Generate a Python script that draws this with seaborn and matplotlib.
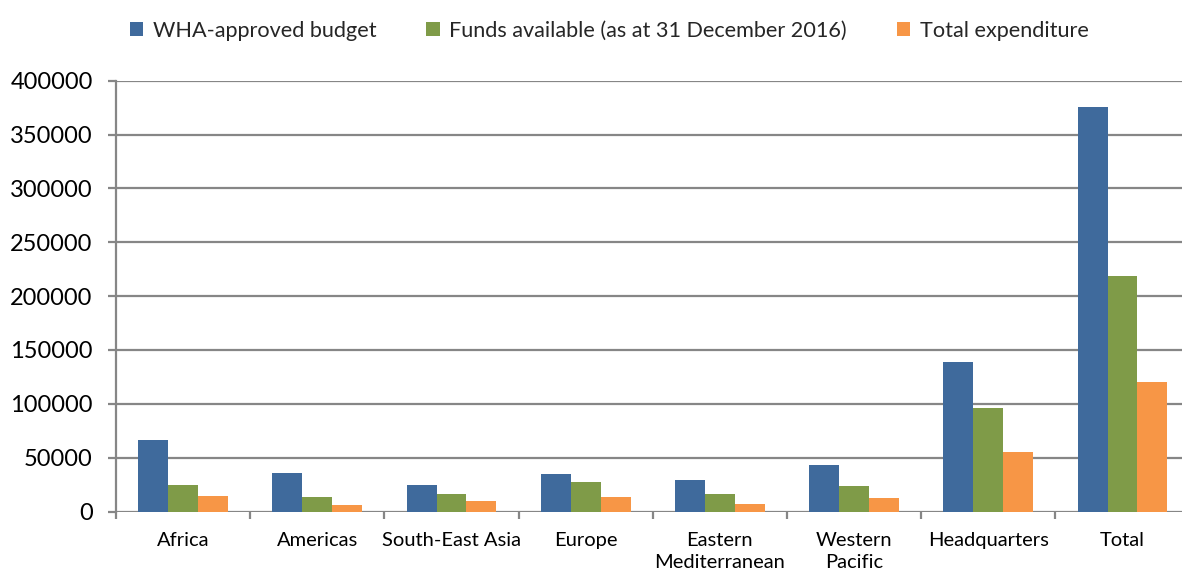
import numpy as np
import pandas as pd
import matplotlib
matplotlib.use("Agg")
import matplotlib.pyplot as plt
from matplotlib.ticker import FixedLocator
import seaborn as sns

# Budget figures by major office (US$ thousands)
offices = ["Africa", "Americas", "South-East Asia", "Europe",
           "Eastern\nMediterranean", "Western\nPacific", "Headquarters", "Total"]
approved_budget = [66200, 35400, 24900, 34500, 29600, 43200, 139000, 375700]
funds_available = [24300, 13000, 15900, 27000, 15900, 24000, 96200, 218600]
total_expenditure = [14600, 5600, 9600, 13000, 6800, 12100, 55700, 120300]

series_names = ["WHA-approved budget",
                "Funds available (as at 31 December 2016)",
                "Total expenditure"]
series_colors = ["#3F6A9C", "#7F9B48", "#F79646"]

df = pd.DataFrame({
    "office": offices * 3,
    "series": [series_names[0]] * 8 + [series_names[1]] * 8 + [series_names[2]] * 8,
    "value": approved_budget + funds_available + total_expenditure,
})

sns.set_theme(style="white")
plt.rcParams["font.family"] = ["Lato", "DejaVu Sans"]

fig = plt.figure(figsize=(11.82, 5.72), dpi=100)
ax = fig.add_axes([116 / 1182, (572 - 511.5) / 572,
                   (1182 - 116) / 1182, (511.5 - 80.7) / 572])

sns.barplot(data=df, x="office", y="value", hue="series",
            hue_order=series_names, palette=series_colors,
            width=0.67, saturation=1, edgecolor="none", ax=ax)

grid_color = "#868686"
ax.set_ylim(0, 400000)
ax.set_xlim(-0.5, -0.5 + 1066 / 134.2)
ax.set_yticks(np.arange(0, 400001, 50000))
ax.set_yticklabels([f"{v:d}" for v in range(0, 400001, 50000)])
ax.yaxis.grid(True, color=grid_color, linewidth=1.6)
ax.set_axisbelow(True)

for side in ["top", "right", "bottom"]:
    ax.spines[side].set_visible(False)
ax.spines["left"].set_color(grid_color)
ax.spines["left"].set_linewidth(1.6)

ax.tick_params(axis="y", which="major", length=5.8, width=1.6, color=grid_color,
               labelsize=17, pad=11, labelcolor="black", left=True)
ax.tick_params(axis="x", which="major", length=0, labelsize=14.5, pad=15,
               labelcolor="black")
for lbl in ax.get_xticklabels():
    lbl.set_linespacing(1.3)
ax.xaxis.set_minor_locator(FixedLocator(np.arange(-0.5, 8, 1.0)))
ax.tick_params(axis="x", which="minor", length=5, width=1.6, color=grid_color,
               bottom=True)
ax.set_xlabel("")
ax.set_ylabel("")

leg = ax.legend(loc="upper left", bbox_to_anchor=(121 / 1182, 1 - 12 / 572),
                bbox_transform=fig.transFigure, ncol=3, frameon=False,
                fontsize=15.6, handlelength=0.62, handleheight=0.62,
                handletextpad=0.45, columnspacing=2.3, borderaxespad=0)

fig.savefig("out.png", dpi=100)
